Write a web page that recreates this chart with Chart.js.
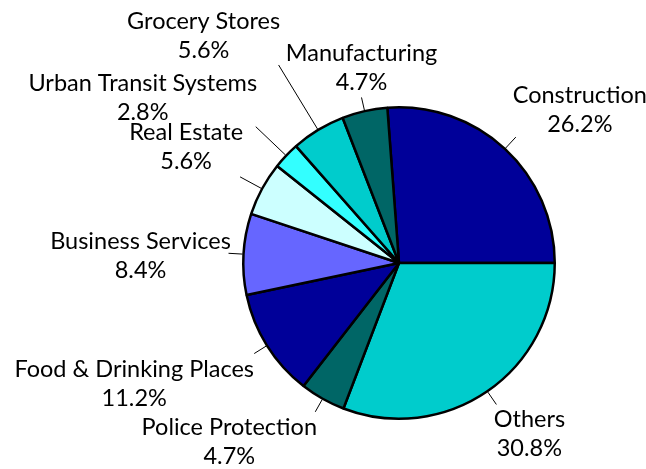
<!DOCTYPE html>
<html>
<head>
<meta charset="utf-8">
<script src="https://cdn.jsdelivr.net/npm/chart.js@4/dist/chart.umd.min.js"></script>
<style>
  html, body { margin: 0; padding: 0; background: #fff; }
  #wrap { width: 646px; height: 469px; }
</style>
</head>
<body>
<div id="wrap"><canvas id="pie" width="646" height="469"></canvas></div>
<script>
// Sector shares, in the order drawn clockwise from the top
const sectors = ['Construction', 'Others', 'Police Protection', 'Food & Drinking Places',
  'Business Services', 'Real Estate', 'Urban Transit Systems', 'Grocery Stores', 'Manufacturing'];
const shares = [26.2, 30.8, 4.7, 11.2, 8.4, 5.6, 2.8, 5.6, 4.7];
const fills = ['#000099', '#00cccc', '#006666', '#000099', '#6666ff', '#ccffff', '#33ffff', '#00cccc', '#006666'];

const FONT = "Lato, 'Open Sans', sans-serif";

// leader length and label offset (from leader end to first line centre), per slice
const LEADER = [15, 15, 14, 14, 14, 24, 41, 75, 13];
const LABEL_OFF = [[64, -42], [33, 15], [-86, 16], [-120, 16], [-88, -12], [-54, -44], [-113, -43], [-75, -44], [0, -44]];
const LINE_GAP = 29;

const calloutLabels = {
  id: 'calloutLabels',
  afterDraw(chart) {
    const ctx = chart.ctx;
    const arcs = chart.getDatasetMeta(0).data;
    const total = shares.reduce((a, b) => a + b, 0);
    ctx.save();
    ctx.font = '23.5px ' + FONT;
    ctx.fillStyle = '#000';
    ctx.strokeStyle = '#000';
    ctx.lineWidth = 1;
    ctx.textAlign = 'center';
    ctx.textBaseline = 'middle';
    arcs.forEach((arc, i) => {
      const p = arc.getProps(['x', 'y', 'startAngle', 'endAngle', 'outerRadius'], true);
      const mid = (p.startAngle + p.endAngle) / 2;
      const r0 = p.outerRadius + 1;
      const r1 = r0 + LEADER[i];
      const x0 = p.x + Math.cos(mid) * r0, y0 = p.y + Math.sin(mid) * r0;
      const x1 = p.x + Math.cos(mid) * r1, y1 = p.y + Math.sin(mid) * r1;
      ctx.beginPath();
      ctx.moveTo(x0, y0);
      ctx.lineTo(x1, y1);
      ctx.stroke();
      const lx = x1 + LABEL_OFF[i][0];
      const ly = y1 + LABEL_OFF[i][1];
      ctx.fillText(sectors[i], lx, ly);
      ctx.fillText((shares[i] / total * 100).toFixed(1) + '%', lx, ly + LINE_GAP);
    });
    ctx.restore();
  },
};

new Chart(document.getElementById('pie'), {
  type: 'pie',
  data: {
    labels: sectors,
    datasets: [{
      data: shares,
      backgroundColor: fills,
      borderColor: '#000',
      borderWidth: 2.5,
    }],
  },
  options: {
    responsive: false,
    animation: false,
    rotation: -4.3,
    layout: { padding: { left: 242, right: 90, top: 106, bottom: 49 } },
    plugins: {
      legend: { display: false },
      tooltip: { enabled: false },
    },
  },
  plugins: [calloutLabels],
});
</script>
</body>
</html>
